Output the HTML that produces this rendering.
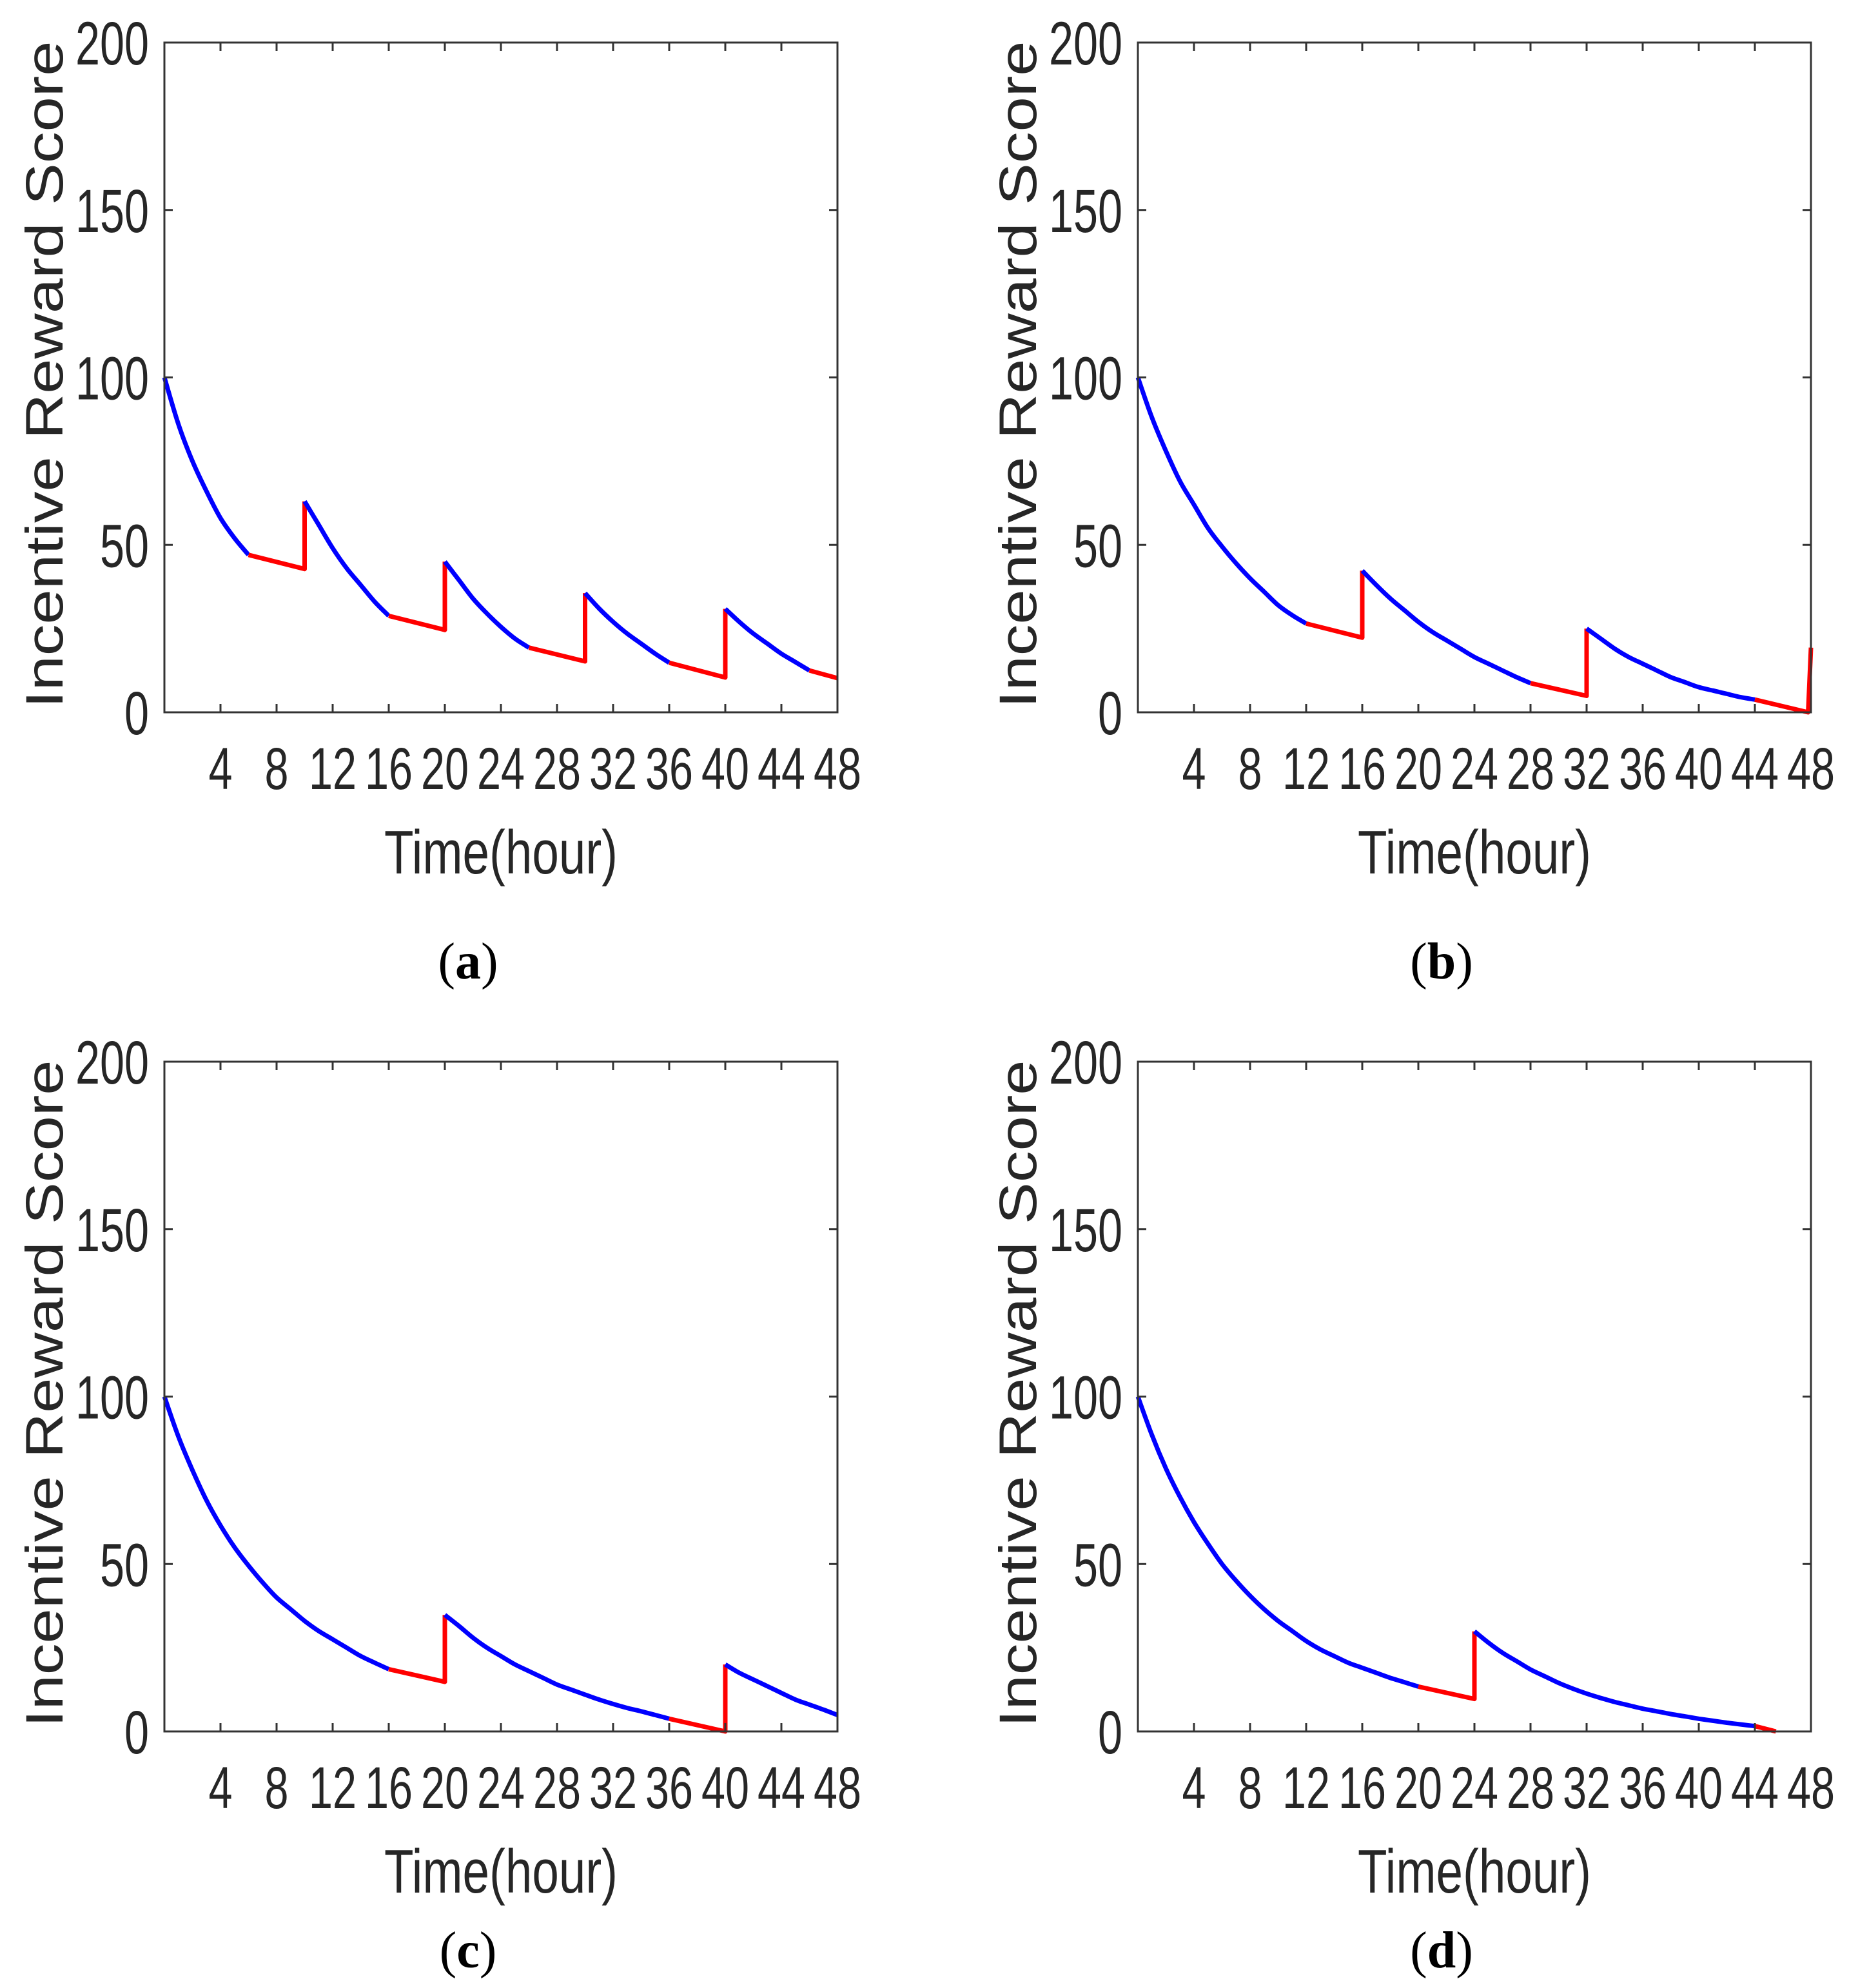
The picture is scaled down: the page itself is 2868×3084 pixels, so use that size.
<!DOCTYPE html>
<html><head><meta charset="utf-8"><style>
html,body{margin:0;padding:0;background:#fff;}
svg{display:block;}
</style></head><body>
<svg id="fig" width="2868" height="3084" viewBox="0 0 2868 3084" xmlns="http://www.w3.org/2000/svg"></svg>
<script>
// ---------- data ----------
const xTicks = [4,8,12,16,20,24,28,32,36,40,44,48];
const yTicks = [0,50,100,150,200];

// Panel (a)
const aTimes  = [0,1,2,3,4,5,6, 10,10,11,12,13,14,15,16, 20,20,21,22,23,24,25,26, 30,30,31,32,33,34,35,36, 40,40,41,42,43,44,45,46, 48];
const aValues = [100,86,75,66,58,52,47, 42.8,63,56,49,43,38,33,28.8, 24.6,45,39.5,34,29.5,25.5,22,19.3, 15.2,35.6,31,27,23.5,20.5,17.5,14.8, 10.4,30.9,27,23.5,20.5,17.5,15,12.5, 10.2];
const aColors = ['b','b','b','b','b','b','r','r','b','b','b','b','b','b','r','r','b','b','b','b','b','b','r','r','b','b','b','b','b','b','r','r','b','b','b','b','b','b','r'];

// Panel (b)
const bTimes  = [0,1,2,3,4,5,6,7,8,9,10,11,12, 16,16,17,18,19,20,21,22,23,24,25,26,27,28, 32,32,33,34,35,36,37,38,39,40,41,42,43,44, 47.8,48];
const bValues = [100,88,78,69,62,55,49.5,44.5,40,36,32,29,26.5, 22.3,42.3,38,34,30.5,27,24,21.5,19,16.5,14.5,12.5,10.5,8.7, 4.9,25,22,19,16.5,14.5,12.5,10.5,9,7.5,6.5,5.5,4.5,3.8, 0,19.3];
const bColors = ['b','b','b','b','b','b','b','b','b','b','b','b','r','r','b','b','b','b','b','b','b','b','b','b','b','b','r','r','b','b','b','b','b','b','b','b','b','b','b','b','r','r'];

// Panel (c)
const cTimes  = [0,1,2,3,4,5,6,7,8,9,10,11,12,13,14,15,16, 20,20,21,22,23,24,25,26,27,28,29,30,31,32,33,34,35,36, 40,40,41,42,43,44,45,46,47,48];
const cValues = [100,88,78,69,61.5,55,49.5,44.5,40,36.5,33,30,27.5,25,22.5,20.5,18.6, 14.8,34.8,31.5,28,25,22.5,20,18,16,14,12.5,11,9.5,8.2,7,6,4.9,3.8, 0,20,17.5,15.5,13.5,11.5,9.5,8,6.5,4.9];
const cColors = ['b','b','b','b','b','b','b','b','b','b','b','b','b','b','b','b','r','r','b','b','b','b','b','b','b','b','b','b','b','b','b','b','b','b','r','r','b','b','b','b','b','b','b','b'];

// Panel (d)
const dTimes  = [0,1,2,3,4,5,6,7,8,9,10,11,12,13,14,15,16,17,18,19,20, 24,24,25,26,27,28,29,30,31,32,33,34,35,36,37,38,39,40,41,42,43,44, 45.5];
const dValues = [100,88.5,78.5,70,62.5,56,50,45,40.5,36.5,33,30,27,24.5,22.5,20.5,19,17.5,16,14.7,13.4, 9.7,29.9,26.5,23.5,21,18.5,16.5,14.5,12.8,11.3,10,8.8,7.8,6.8,6,5.2,4.5,3.8,3.2,2.6,2.1,1.6, 0];
const dColors = ['b','b','b','b','b','b','b','b','b','b','b','b','b','b','b','b','b','b','b','b','r','r','b','b','b','b','b','b','b','b','b','b','b','b','b','b','b','b','b','b','b','b','r'];

// ---------- drawing ----------
const NS = 'http://www.w3.org/2000/svg';
const svg = document.getElementById('fig');
function mk(tag, attrs, parent){
  const e = document.createElementNS(NS, tag);
  for (const k in attrs) e.setAttribute(k, attrs[k]);
  (parent||svg).appendChild(e);
  return e;
}
const PW = 1044, PH = 1039;

// smooth path through points (Catmull-Rom)
function smoothPath(P){
  let d = 'M' + P[0][0].toFixed(1) + ',' + P[0][1].toFixed(1);
  for (let k = 0; k < P.length - 1; k++){
    const p0 = P[k - 1] || P[k], p1 = P[k], p2 = P[k + 1], p3 = P[k + 2] || P[k + 1];
    const c1x = p1[0] + (p2[0] - p0[0]) / 6, c1y = p1[1] + (p2[1] - p0[1]) / 6;
    const c2x = p2[0] - (p3[0] - p1[0]) / 6, c2y = p2[1] - (p3[1] - p1[1]) / 6;
    d += ' C' + c1x.toFixed(1) + ',' + c1y.toFixed(1) + ' ' + c2x.toFixed(1) + ',' + c2y.toFixed(1) + ' ' + p2[0].toFixed(1) + ',' + p2[1].toFixed(1);
  }
  return d;
}

function panel(key, ox, oy, times, values, colors, letter, letterY){
  const g = mk('g', {});
  
  
  const xs = t => ox + t / 48 * PW;
  const ys = v => oy + PH - v / 200 * PH;

  let i = 0;
  while (i < colors.length){
    let j = i;
    while (j + 1 < colors.length && colors[j + 1] === colors[i]) j++;
    const P = [];
    for (let k = i; k <= j + 1; k++) P.push([xs(times[k]), ys(values[k])]);
    const isBlue = colors[i] === 'b';
    let d;
    if (isBlue) d = smoothPath(P);
    else d = 'M' + P.map(p => p[0].toFixed(1) + ',' + p[1].toFixed(1)).join(' L');
    const pl = mk('path', {d: d, fill: 'none', stroke: isBlue ? '#0000ff' : '#ff0000', 'stroke-width': 7, 'stroke-linejoin': 'round'}, g);
    
    
    i = j + 1;
  }

  const fr = mk('rect', {x: ox, y: oy, width: PW, height: PH, fill: 'none', stroke: '#333', 'stroke-width': 3}, g);
  
  

  xTicks.forEach(t => {
    const x = xs(t);
    mk('line', {x1: x, y1: oy + PH, x2: x, y2: oy + PH - 13, stroke: '#333', 'stroke-width': 3}, g);
    mk('line', {x1: x, y1: oy, x2: x, y2: oy + 13, stroke: '#333', 'stroke-width': 3}, g);
    const tx = mk('text', {x: x, y: oy + PH + 119, 'text-anchor': 'middle', 'font-family': 'Liberation Sans, sans-serif', 'font-size': 92, fill: '#262626', textLength: String(t).length * 37, lengthAdjust: 'spacingAndGlyphs'}, g);
    tx.textContent = t;
    
    
  });
  yTicks.forEach(v => {
    const y = ys(v);
    mk('line', {x1: ox, y1: y, x2: ox + 13, y2: y, stroke: '#333', 'stroke-width': 3}, g);
    mk('line', {x1: ox + PW, y1: y, x2: ox + PW - 13, y2: y, stroke: '#333', 'stroke-width': 3}, g);
    const tx = mk('text', {x: ox - 24, y: y + 34, 'text-anchor': 'end', 'font-family': 'Liberation Sans, sans-serif', 'font-size': 95, fill: '#262626', textLength: String(v).length * 38, lengthAdjust: 'spacingAndGlyphs'}, g);
    tx.textContent = v;
    
    
  });
  const yt = mk('text', {x: 0, y: 0, 'text-anchor': 'middle', 'font-family': 'Liberation Sans, sans-serif', 'font-size': 82, fill: '#262626', textLength: 1035, lengthAdjust: 'spacingAndGlyphs', transform: 'translate(' + (ox - 158) + ',' + (oy + 515) + ') rotate(-90)'}, g);
  yt.textContent = 'Incentive Reward Score';
  
  
  const xt = mk('text', {x: ox + PW / 2, y: oy + PH + 250, 'text-anchor': 'middle', 'font-family': 'Liberation Sans, sans-serif', 'font-size': 96, fill: '#262626', textLength: 362, lengthAdjust: 'spacingAndGlyphs'}, g);
  xt.textContent = 'Time(hour)';
  
  
  const lt = mk('text', {x: ox + PW / 2 - 51, y: letterY, 'text-anchor': 'middle', 'font-family': 'Liberation Serif, serif', 'font-size': 80, fill: '#000'}, g);
  lt.innerHTML = '(<tspan font-weight="bold">' + letter + '</tspan>)';
  
  
}

panel('a', 255, 66, aTimes, aValues, aColors, 'a', 1518);
panel('b', 1765, 66, bTimes, bValues, bColors, 'b', 1518);
panel('c', 255, 1647, cTimes, cValues, cColors, 'c', 3052);
panel('d', 1765, 1647, dTimes, dValues, dColors, 'd', 3052);
</script>
</body></html>
